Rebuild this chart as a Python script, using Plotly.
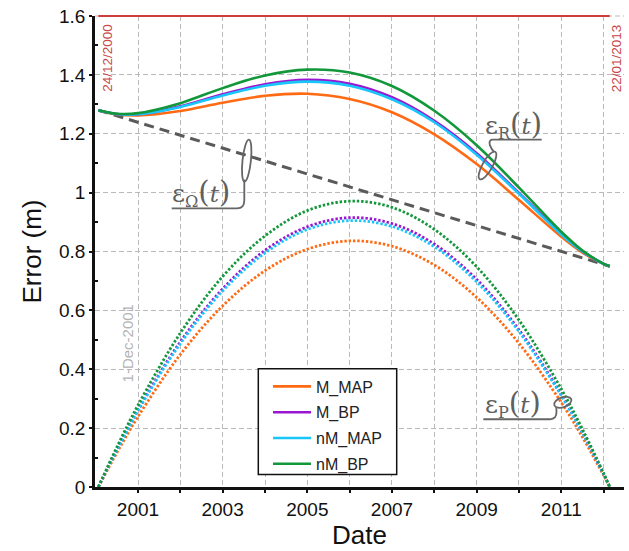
import math
import plotly.graph_objects as go

# ---------------- data ----------------
dates = ["2000-12-24", "2001-06-01", "2001-12-01", "2002-12-01", "2003-12-01",
         "2004-12-01", "2005-12-01", "2006-12-01", "2007-12-01", "2008-12-01",
         "2009-12-01", "2010-12-01", "2011-12-01", "2012-06-01", "2012-12-01",
         "2013-01-22"]

omega_dates = ["2000-12-24", "2013-01-22"]
omega_vals = [1.28, 0.75]

p_m_map = [0, 0.116, 0.239, 0.450, 0.615, 0.735, 0.808, 0.836, 0.818, 0.754, 0.644, 0.488, 0.287, 0.169, 0.039, 0]
p_m_bp = [0, 0.127, 0.262, 0.493, 0.673, 0.804, 0.884, 0.915, 0.895, 0.825, 0.705, 0.534, 0.314, 0.185, 0.043, 0]
p_nm_map = [0, 0.126, 0.259, 0.487, 0.666, 0.795, 0.875, 0.905, 0.885, 0.816, 0.697, 0.528, 0.310, 0.183, 0.043, 0]
p_nm_bp = [0, 0.135, 0.278, 0.523, 0.715, 0.853, 0.939, 0.971, 0.950, 0.875, 0.748, 0.567, 0.333, 0.196, 0.046, 0]

r_m_map = [1.280, 1.266, 1.262, 1.277, 1.305, 1.329, 1.336, 1.318, 1.273, 1.198, 1.097, 0.975, 0.850, 0.796, 0.757, 0.750]
r_m_bp = [1.280, 1.267, 1.266, 1.293, 1.334, 1.368, 1.383, 1.370, 1.324, 1.244, 1.134, 0.999, 0.860, 0.800, 0.758, 0.750]
r_nm_map = [1.280, 1.267, 1.266, 1.291, 1.330, 1.363, 1.377, 1.363, 1.317, 1.239, 1.129, 0.996, 0.858, 0.800, 0.758, 0.750]
r_nm_bp = [1.280, 1.268, 1.270, 1.304, 1.355, 1.398, 1.418, 1.408, 1.362, 1.278, 1.161, 1.017, 0.867, 0.803, 0.758, 0.750]

series_names = ["M_MAP", "M_BP", "nM_MAP", "nM_BP"]
series_colors = ["#ff6a13", "#9b16d0", "#19c6fa", "#12983a"]
p_series = [p_m_map, p_m_bp, p_nm_map, p_nm_bp]
r_series = [r_m_map, r_m_bp, r_nm_map, r_nm_bp]

x_tickvals = ["2001-12-01", "2002-12-01", "2003-12-01", "2004-12-01", "2005-12-01",
              "2006-12-01", "2007-12-01", "2008-12-01", "2009-12-01", "2010-12-01",
              "2011-12-01", "2012-12-01"]
x_ticktext = ["2001", "", "2003", "", "2005", "", "2007", "", "2009", "", "2011", ""]
y_tickvals = [0, 0.2, 0.4, 0.6, 0.8, 1.0, 1.2, 1.4, 1.6]
y_ticktext = ["0", "0.2", "0.4", "0.6", "0.8", "1", "1.2", "1.4", "1.6"]
y_minor = [0.1, 0.3, 0.5, 0.7, 0.9, 1.1, 1.3, 1.5]

start_label = "24/12/2000"
end_label = "22/01/2013"
mid_label = "1-Dec-2001"

# ---------------- figure ----------------
fig = go.Figure()

fig.add_trace(go.Scatter(x=omega_dates, y=omega_vals, mode="lines",
                         line=dict(color="#5a5a5a", width=3, dash="10px,6px"),
                         showlegend=False, hoverinfo="skip"))

for name, col, ys in zip(series_names, series_colors, p_series):
    fig.add_trace(go.Scatter(x=dates, y=ys, mode="lines", line_shape="spline",
                             line=dict(color=col, width=2.8, dash="2.4px,1.9px"),
                             showlegend=False, hoverinfo="skip"))

for i, (name, col, ys) in enumerate(zip(series_names, series_colors, r_series)):
    fig.add_trace(go.Scatter(x=dates, y=ys, mode="lines", line_shape="spline",
                             line=dict(color=col, width=2.6), name=name,
                             legendgroup="g%d" % i))

# plot-area geometry (pixels) for decorative callouts
L, T, W, H = 95, 16, 529, 475


def fx(x):
    return (x - L) / W


def fy(y):
    return (T + H - y) / H


def P(x, y):
    return "%.5f,%.5f" % (fx(x), fy(y))


def ellipse_path(cx, cy, a, b, ang_deg):
    th = math.radians(ang_deg)
    u = (math.cos(th), math.sin(th))
    v = (-math.sin(th), math.cos(th))
    k = 0.5523

    def pt(phi):
        return (cx + a * math.cos(phi) * u[0] + b * math.sin(phi) * v[0],
                cy + a * math.cos(phi) * u[1] + b * math.sin(phi) * v[1])

    def d(phi):
        return (-a * math.sin(phi) * u[0] + b * math.cos(phi) * v[0],
                -a * math.sin(phi) * u[1] + b * math.cos(phi) * v[1])

    s = "M" + P(*pt(0))
    for j in range(4):
        f0 = j * math.pi / 2
        f1 = f0 + math.pi / 2
        p0, p3 = pt(f0), pt(f1)
        d0, d1 = d(f0), d(f1)
        c1 = (p0[0] + k * d0[0], p0[1] + k * d0[1])
        c2 = (p3[0] - k * d1[0], p3[1] - k * d1[1])
        s += " C" + P(*c1) + " " + P(*c2) + " " + P(*p3)
    return s + " Z"


callout = dict(color="#666666", width=1.8)
shapes = []
# epsilon_Omega callout
shapes.append(dict(type="path", xref="paper", yref="paper", line=callout,
                   path="M" + P(171.7, 210) + " L" + P(237, 210) + " Q" + P(244.3, 210) + " " + P(244.3, 202) + " L" + P(244.3, 181)))
shapes.append(dict(type="path", xref="paper", yref="paper", line=callout,
                   path=ellipse_path(246.7, 161.8, 21.2, 4.2, -84)))
# epsilon_R callout
shapes.append(dict(type="path", xref="paper", yref="paper", line=callout,
                   path="M" + P(541.7, 140.7) + " L" + P(492, 140.7) + " Q" + P(488.5, 141.5) + " " + P(490, 146.5) + " Q" + P(491.5, 150.5) + " " + P(494, 153)))
shapes.append(dict(type="path", xref="paper", yref="paper", line=callout,
                   path=ellipse_path(487.5, 166.8, 15.8, 5.0, -61)))
# epsilon_P callout
shapes.append(dict(type="path", xref="paper", yref="paper", line=callout,
                   path="M" + P(483.3, 422.7) + " L" + P(550, 422.7) + " Q" + P(556.7, 422.5) + " " + P(556.5, 415) + " L" + P(556.3, 410.5)))
shapes.append(dict(type="path", xref="paper", yref="paper", line=callout,
                   path=ellipse_path(562.8, 405.5, 9.0, 5.0, -20)))
# top dashed grid line along the plot's upper edge
shapes.append(dict(type="line", xref="paper", yref="paper", x0=0, x1=1, y0=1, y1=1,
                   line=dict(color="#b9b9b9", width=1.2, dash="5px,3px"), layer="below"))
# red top line between the start and end dates
shapes.append(dict(type="line", xref="x", yref="paper", x0=omega_dates[0], x1=omega_dates[1],
                   y0=1, y1=1, line=dict(color="#d03c3c", width=2), layer="above"))
# legend frame
shapes.append(dict(type="rect", xref="paper", yref="paper",
                   x0=fx(258.3), x1=fx(396.7), y0=fy(478.3), y1=fy(371.7),
                   line=dict(color="#111111", width=1.5), fillcolor="white", layer="above"))

red = "#c8474a"
serif = "DejaVu Serif, Liberation Serif"


def eps_text(sub):
    return ('<span style="font-size:25px">ε</span><sub>%s</sub>'
            '<span style="font-size:29px">(</span><i>t</i>'
            '<span style="font-size:29px">)</span>' % sub)


eps_font = dict(family=serif, size=23, color="#606060")
annotations = [
    dict(x=omega_dates[0], y=1.6, xref="x", yref="y", text=start_label, showarrow=False,
         textangle=-90, xanchor="left", yanchor="top", yshift=-6, xshift=-1,
         font=dict(family="Arial, Liberation Sans", size=13.5, color=red)),
    dict(x=omega_dates[1], y=1.6, xref="x", yref="y", text=end_label, showarrow=False,
         textangle=-90, xanchor="left", yanchor="top", yshift=-6, xshift=-3,
         font=dict(family="Arial, Liberation Sans", size=13.5, color=red)),
    dict(x=x_tickvals[0], y=0.486, xref="x", yref="y", text=mid_label, showarrow=False,
         textangle=-90, xanchor="right", yanchor="middle", xshift=0,
         font=dict(family="Arial, Liberation Sans", size=15, color="#b4b4b4")),
    dict(x=fx(201), y=fy(194), xref="paper", yref="paper", xanchor="center", yanchor="middle",
         text=eps_text("Ω"), showarrow=False, font=eps_font),
    dict(x=fx(513), y=fy(126), xref="paper", yref="paper", xanchor="center", yanchor="middle",
         text=eps_text("R"), showarrow=False, font=eps_font),
    dict(x=fx(512.5), y=fy(407), xref="paper", yref="paper", xanchor="center", yanchor="middle",
         text=eps_text("P"), showarrow=False, font=eps_font),
]

grid = dict(gridcolor="#b9b9b9", gridwidth=1.2, griddash="5px,3px")

fig.update_layout(
    width=629, height=551,
    margin=dict(l=L, r=629 - L - W, t=T, b=551 - T - H),
    paper_bgcolor="white", plot_bgcolor="white",
    font=dict(family="Arial, Liberation Sans", size=19, color="#111111"),
    shapes=shapes, annotations=annotations,
    legend=dict(x=fx(268), y=fy(372.5), xanchor="left", yanchor="top",
                borderwidth=0, bgcolor="rgba(0,0,0,0)",
                font=dict(size=16, color="#222222"), traceorder="grouped",
                tracegroupgap=2, itemwidth=38),
    xaxis=dict(type="date", range=["2000-11-25", "2013-05-25"],
               tickmode="array", tickvals=x_tickvals, ticktext=x_ticktext,
               showline=True, linecolor="#111111", linewidth=2.5,
               ticks="outside", ticklen=3, tickwidth=2, tickcolor="#111111",
               showgrid=True, zeroline=False,
               title=dict(text="Date", font=dict(size=26), standoff=8), **grid),
    yaxis=dict(range=[0, 1.6], tickmode="array", tickvals=y_tickvals, ticktext=y_ticktext,
               showline=True, linecolor="#111111", linewidth=2.5,
               ticks="outside", ticklen=3, tickwidth=2, tickcolor="#111111",
               minor=dict(tickmode="array", tickvals=y_minor, ticks="inside", ticklen=3,
                          tickwidth=1.5, tickcolor="#111111", showgrid=False),
               showgrid=True, zeroline=False,
               title=dict(text="Error (m)", font=dict(size=26), standoff=10), **grid),
)

fig.write_html("out.html")
